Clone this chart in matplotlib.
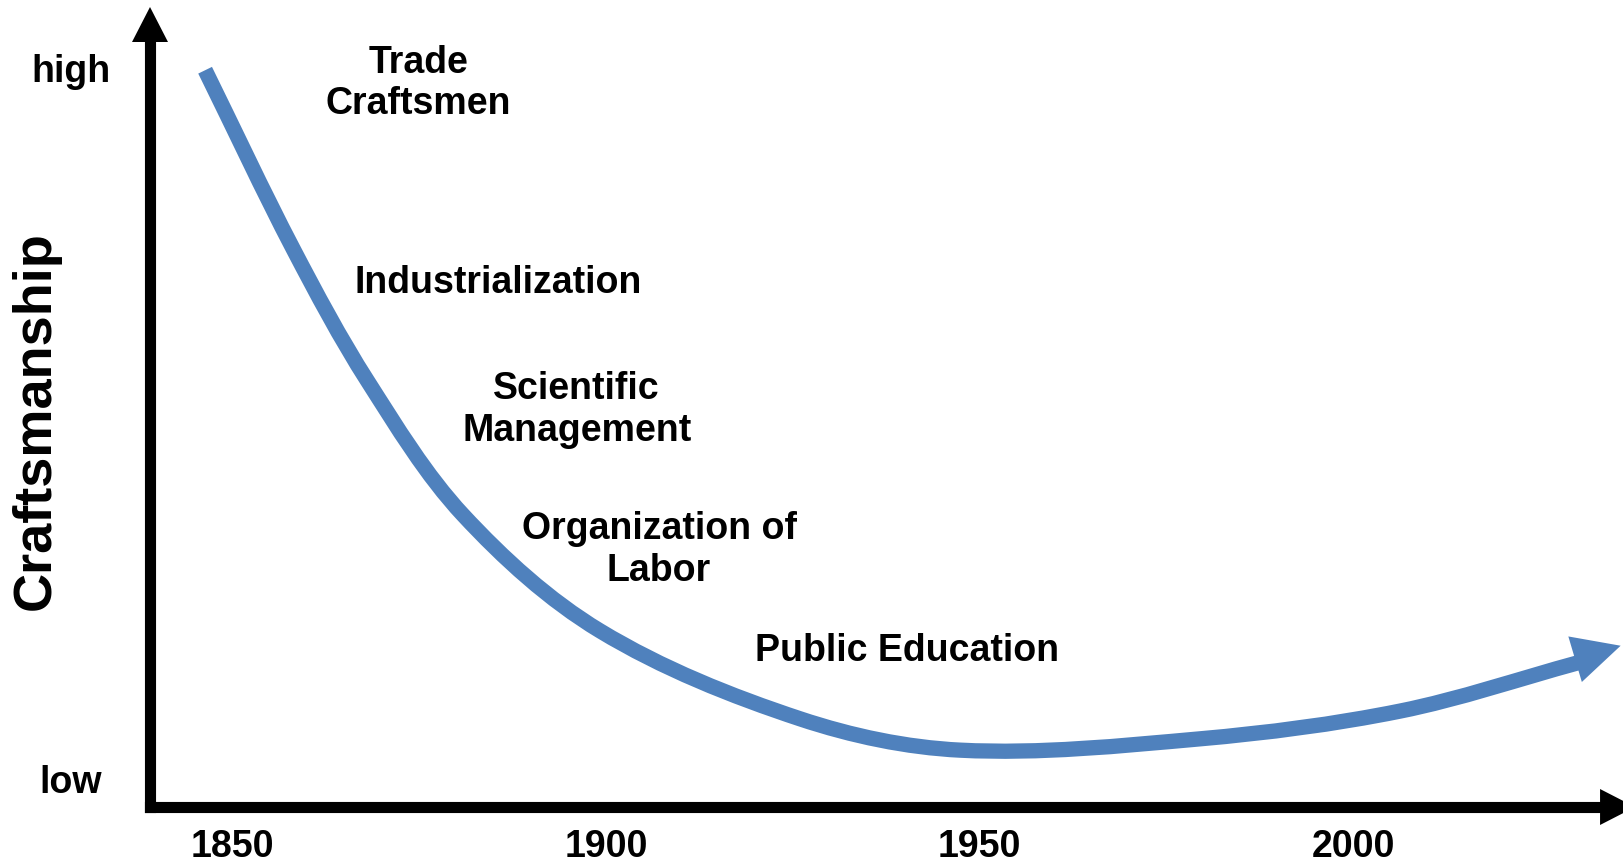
import matplotlib
matplotlib.use("Agg")
import matplotlib.pyplot as plt
import numpy as np
from matplotlib.path import Path
from matplotlib.patches import PathPatch

plt.rcParams['font.family'] = ['Liberation Sans', 'DejaVu Sans']
plt.rcParams['font.weight'] = 'bold'

# curve (year, craftsmanship 0=low .. 1=high)
years = [1846.4, 1858.2, 1868.1, 1880.9, 1899.2, 1926.0, 1947.4, 1979.5,
         2006.2, 2030.0]
craft = [0.996, 0.744, 0.559, 0.370, 0.207, 0.083, 0.039, 0.055,
         0.094, 0.162]
tip = (2035.7, 0.186)

xticks = [1850, 1900, 1950, 2000]
yticks = [0, 1]
ylabels = ['low', 'high']

notes = ['Trade\nCraftsmen', 'Industrialization', 'Scientific\nManagement',
         'Organization of\nLabor', 'Public Education']
note_x = [1874.9, 1885.6, 1896.1, 1907.1, 1940.3]
note_y = [0.979, 0.698, 0.519, 0.322, 0.180]

blue = '#4F81BD'

fig = plt.figure(figsize=(16.24, 8.62), dpi=100)
# axes box: left at the y axis line, bottom at the x axis line
ax = fig.add_axes([150 / 1624, 54 / 862, 1474 / 1624, 800 / 862])
ax.set_xlim(1839.03, 2036.15)
ax.set_ylim(-0.041, 1.085)
for s in ax.spines.values():
    s.set_visible(False)

# axis lines with arrow heads
ax.plot([0, 0], [0, 0.96], color='black', lw=8, transform=ax.transAxes,
        clip_on=False, solid_capstyle='projecting')
ax.plot([0, 0.99], [0, 0], color='black', lw=8, transform=ax.transAxes,
        clip_on=False, solid_capstyle='projecting')
head = '-|>,head_length=1,head_width=0.514'
ax.annotate('', xy=(0, 1), xytext=(0, 0.956), xycoords='axes fraction',
            annotation_clip=False,
            arrowprops=dict(arrowstyle=head, mutation_scale=25.2,
                            color='black', lw=0, shrinkA=0, shrinkB=0))
ax.annotate('', xy=(1.0075, 0), xytext=(0.9837, 0), xycoords='axes fraction',
            annotation_clip=False,
            arrowprops=dict(arrowstyle=head, mutation_scale=25.2,
                            color='black', lw=0, shrinkA=0, shrinkB=0))

# the trend curve: smooth bezier through the read points,
# tangents worked out in pixel space so the aspect doesn't bend it
pts = ax.transData.transform(np.column_stack([years, craft]))
n = len(pts)
tang = []
for i in range(n):
    d = pts[min(i + 1, n - 1)] - pts[max(i - 1, 0)]
    tang.append(d / np.hypot(*d))
verts = [pts[0]]
codes = [Path.MOVETO]
for i in range(n - 1):
    seg = np.hypot(*(pts[i + 1] - pts[i])) / 3
    verts += [pts[i] + tang[i] * seg, pts[i + 1] - tang[i + 1] * seg, pts[i + 1]]
    codes += [Path.CURVE4] * 3
verts = ax.transData.inverted().transform(np.array(verts))
ax.add_patch(PathPatch(Path(verts, codes), fill=False, edgecolor=blue,
                       lw=11, capstyle='butt', joinstyle='round'))
ax.annotate('', xy=tip, xytext=(years[-2], craft[-2]),
            arrowprops=dict(arrowstyle='-|>,head_length=1,head_width=0.5',
                            mutation_scale=34.2, color=blue, lw=0,
                            shrinkA=0, shrinkB=0))

for t, x, y in zip(notes, note_x, note_y):
    ax.text(x, y, t, ha='center', va='center', fontsize=27,
            fontweight='bold', linespacing=1.2)

ax.set_xticks(xticks)
ax.set_xticklabels([str(v) for v in xticks])
ax.set_yticks(yticks)
ax.set_yticklabels(ylabels)
ax.tick_params(axis='x', length=0, pad=15, labelsize=27)
ax.tick_params(axis='y', length=0, pad=57, labelsize=27)
for lbl in ax.get_yticklabels():
    lbl.set_ha('center')

ax.set_ylabel('Craftsmanship', fontsize=39, fontweight='bold', va='center')
ax.yaxis.set_label_coords(-0.0773, 0.484)

fig.savefig('out.png', dpi=100)
